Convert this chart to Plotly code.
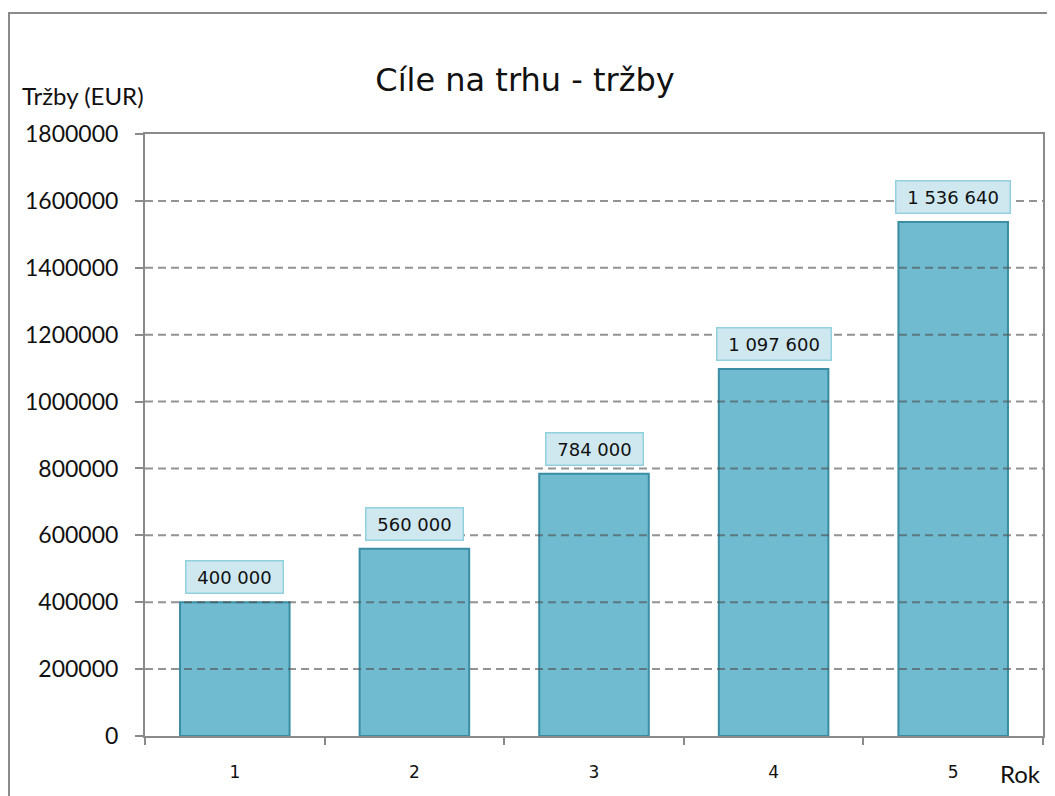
import plotly.graph_objects as go

years = ["1", "2", "3", "4", "5"]
sales = [400000, 560000, 784000, 1097600, 1536640]
y_ticks = [0, 200000, 400000, 600000, 800000, 1000000, 1200000, 1400000, 1600000, 1800000]

title_text = "Cíle na trhu - tržby"
y_title = "Tržby (EUR)"
x_title = "Rok"

def fmt(v):
    return f"{v:,}".replace(",", " ")

W, H = 1055, 796
OFF = 8  # page body margin
L, R, T, B = 145 - OFF, 20, 134 - OFF, 68
pw, ph = W - L - R, H - T - B

def px_x(x):
    return (x - OFF - L) / pw

def px_y(y):
    return (H - B - (y - OFF)) / ph

fig = go.Figure()
fig.add_trace(go.Bar(
    x=years, y=sales, width=0.61,
    marker=dict(color="#70bbd0", line=dict(color="#3a8ea4", width=2)),
    hoverinfo="skip",
))

annotations = []
for i, v in enumerate(sales):
    annotations.append(dict(
        x=i, y=v, xref="x", yref="y", text="\u00a0" + fmt(v) + "\u00a0",
        showarrow=False, yanchor="bottom", yshift=8,
        font=dict(family="DejaVu Sans", size=18, color="#111111"),
        bgcolor="#cfe8f0", bordercolor="#92d0e0", borderwidth=1.5, borderpad=5,
    ))
annotations.append(dict(
    x=px_x(20), y=px_y(95), xref="paper", yref="paper", text=y_title,
    showarrow=False, xanchor="left", yanchor="middle",
    font=dict(family="Lato", size=24, color="#111111"),
))
annotations.append(dict(
    x=px_x(1020), y=px_y(773), xref="paper", yref="paper", text=x_title,
    showarrow=False, xanchor="center", yanchor="middle",
    font=dict(family="Lato", size=24, color="#111111"),
))

shapes = [dict(type="rect", xref="paper", yref="paper",
               x0=px_x(9), x1=px_x(1075), y0=px_y(820), y1=px_y(13),
               line=dict(color="#8a8a8a", width=2), fillcolor="rgba(0,0,0,0)", layer="below")]
for t in y_ticks[1:-1]:
    shapes.append(dict(type="line", xref="paper", yref="y", x0=0, x1=1, y0=t, y1=t,
                       line=dict(color="rgba(80,80,80,0.62)", width=2, dash="8px,5px"),
                       layer="above"))

fig.update_layout(
    width=W, height=H,
    margin=dict(l=L, r=R, t=T, b=B, autoexpand=False),
    paper_bgcolor="white", plot_bgcolor="white",
    showlegend=False,
    title=dict(text=title_text, x=(525 - OFF) / W, y=1 - (80 - OFF) / H, xanchor="center", yanchor="middle",
               font=dict(family="DejaVu Sans", size=32, color="#111111")),
    annotations=annotations,
    shapes=shapes,
)
fig.update_xaxes(
    type="category", range=[-0.5, 4.5], automargin=False,
    showline=True, linecolor="#8a8a8a", linewidth=2, mirror=True,
    ticks="outside", tickson="boundaries", ticklen=7, tickcolor="#8a8a8a", tickwidth=1.5,
    showgrid=False, ticklabelstandoff=20,
    tickfont=dict(family="DejaVu Sans", size=17, color="#111111"),
)
fig.update_yaxes(
    range=[0, 1800000], tickvals=y_ticks, ticktext=[str(v) for v in y_ticks], automargin=False,
    showline=True, linecolor="#8a8a8a", linewidth=2, mirror=True,
    ticks="outside", ticklen=8, tickcolor="#8a8a8a", tickwidth=1.5,
    showgrid=False,
    ticklabelstandoff=12, zeroline=False,
    tickfont=dict(family="Lato", size=23, color="#111111"),
)
fig.write_html("out.html")
